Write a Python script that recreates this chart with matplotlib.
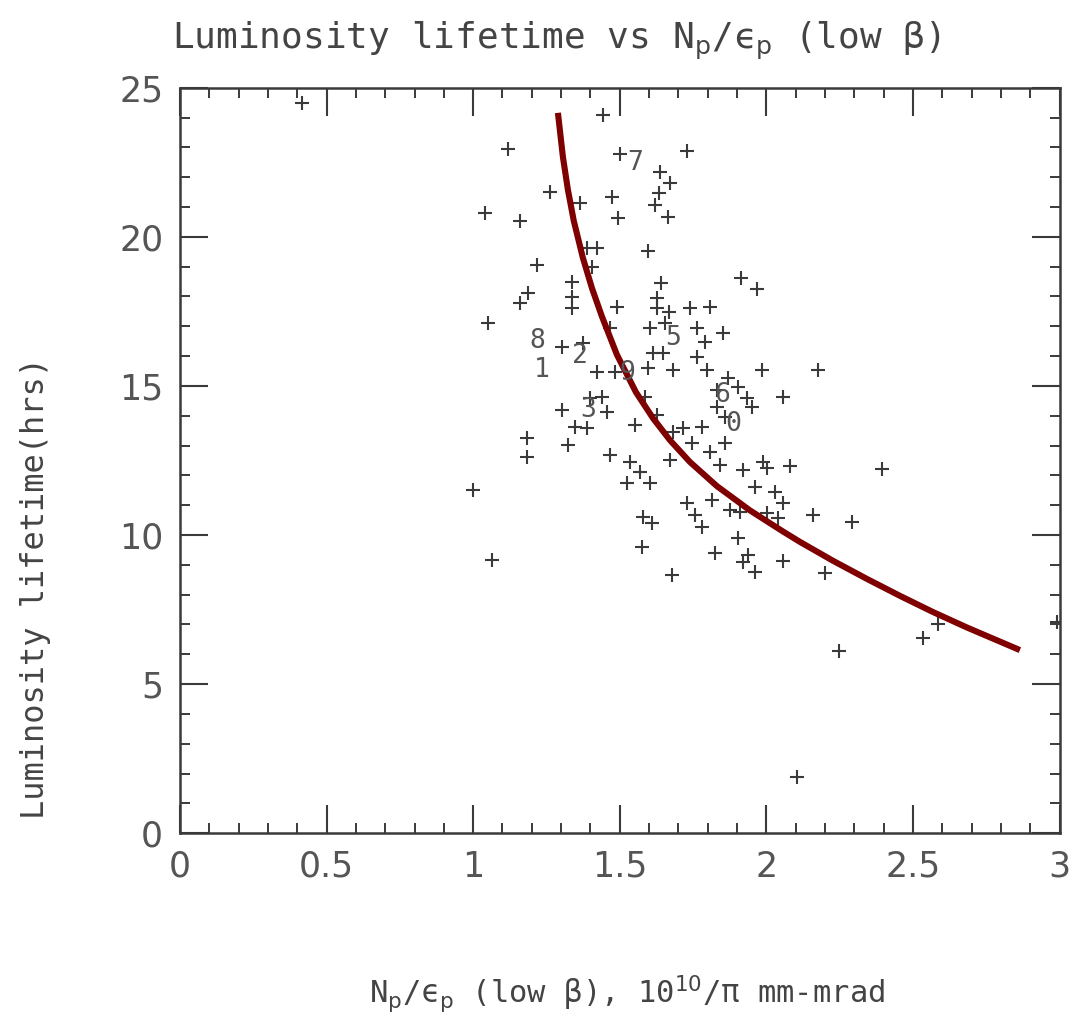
#Import necessary package
import matplotlib
matplotlib.use("Agg")
import matplotlib.pyplot as plt
from matplotlib.ticker import MultipleLocator

#Scatter points: x = Np/ep (low beta), y = luminosity lifetime (hrs)
np_ep = [0.416, 1.442, 1.118, 1.500, 1.729, 1.637, 1.671, 1.633, 1.620, 1.664,
         1.262, 1.364, 1.473, 1.040, 1.159, 1.493, 1.388, 1.422, 1.596, 1.217,
         1.405, 1.337, 1.186, 1.159, 1.337, 1.337, 1.490, 1.640, 1.626, 1.626,
         1.667, 1.739, 1.807, 1.913, 1.967, 1.050, 1.466, 1.602, 1.654, 1.763,
         1.790, 1.851, 1.302, 1.374, 1.613, 1.647, 1.596, 1.681, 1.763, 1.797,
         1.984, 2.175, 1.422, 1.483, 1.868, 1.903, 1.831, 1.933, 1.950, 2.056,
         1.585, 1.831, 1.858, 1.439, 1.302, 1.398, 1.456, 1.347, 1.388, 1.323,
         1.183, 1.183, 1.466, 1.551, 1.626, 1.681, 1.715, 1.780, 1.746, 1.807,
         1.858, 1.671, 1.841, 1.920, 1.988, 2.001, 2.080, 1.534, 1.568, 1.524,
         1.602, 0.999, 1.960, 2.029, 2.056, 1.729, 1.756, 1.780, 1.814, 1.875,
         1.909, 2.001, 2.039, 2.158, 1.579, 1.609, 1.903, 1.575, 2.291, 2.393,
         1.677, 1.824, 1.937, 1.920, 1.960, 2.056, 2.199, 1.064, 2.247, 2.584,
         2.533, 2.990, 2.104]
lifetime = [24.50, 24.09, 22.95, 22.79, 22.89, 22.18, 21.81, 21.48, 21.07, 20.67,
            21.51, 21.14, 21.34, 20.81, 20.54, 20.64, 19.63, 19.63, 19.53, 19.06,
            18.99, 18.49, 18.12, 17.79, 17.99, 17.62, 17.65, 18.46, 17.95, 17.62,
            17.48, 17.62, 17.65, 18.62, 18.26, 17.11, 16.95, 16.95, 17.11, 16.95,
            16.48, 16.78, 16.31, 16.44, 16.11, 16.11, 15.60, 15.54, 15.97, 15.54,
            15.54, 15.54, 15.47, 15.47, 15.27, 14.97, 14.87, 14.60, 14.30, 14.63,
            14.63, 14.30, 13.96, 14.63, 14.19, 14.60, 14.13, 13.62, 13.59, 13.02,
            13.26, 12.62, 12.68, 13.69, 14.03, 13.46, 13.59, 13.62, 13.09, 12.79,
            13.09, 12.52, 12.35, 12.18, 12.45, 12.25, 12.32, 12.45, 12.11, 11.74,
            11.74, 11.51, 11.61, 11.44, 11.07, 11.07, 10.67, 10.27, 11.17, 10.84,
            10.77, 10.74, 10.57, 10.67, 10.60, 10.40, 9.90, 9.60, 10.44, 12.21,
            8.66, 9.40, 9.33, 9.09, 8.76, 9.13, 8.72, 9.16, 6.11, 7.01,
            6.54, 7.08, 1.88]

#Digit markers printed on the plot (run numbers)
label_text = ["7", "8", "1", "2", "9", "3", "5", "6", "0"]
label_x = [1.552, 1.220, 1.234, 1.364, 1.527, 1.391, 1.681, 1.848, 1.885]
label_y = [22.48, 16.52, 15.55, 15.99, 15.44, 14.19, 16.61, 14.71, 13.72]

#Hand drawn red trend curve, points read along its centre
curve_x = [1.289, 1.306, 1.323, 1.343, 1.374, 1.405, 1.439, 1.490, 1.555, 1.613, 1.671,
           1.739, 1.831, 1.943, 2.056, 2.114, 2.226, 2.342, 2.455, 2.567, 2.683, 2.864]
curve_y = [24.16, 22.68, 21.58, 20.54, 19.30, 18.28, 17.33, 16.05, 14.79, 13.92, 13.18,
           12.45, 11.64, 10.83, 10.12, 9.77, 9.14, 8.53, 7.96, 7.42, 6.90, 6.14]

ink = "#3a3a3a"
mono = "DejaVu Sans Mono"

fig = plt.figure(figsize=(10.77, 10.21), dpi=100)
ax = fig.add_axes([0.167, 0.184, 0.817, 0.730])

#Scatter of crosses
ax.plot(np_ep, lifetime, linestyle="none", marker="+", markersize=10,
        markeredgewidth=1.5, color=ink)

#Digit labels
for t, lx, ly in zip(label_text, label_x, label_y):
    ax.text(lx, ly, t, fontsize=19, family=mono, color="#555555",
            ha="center", va="center")

#Red curve on top
ax.plot(curve_x, curve_y, color="#7f0000", linewidth=4.4,
        solid_capstyle="butt", solid_joinstyle="round")

#Axes limits and ticks
ax.set_xlim(0, 3)
ax.set_ylim(0, 25)
ax.xaxis.set_major_locator(MultipleLocator(0.5))
ax.xaxis.set_minor_locator(MultipleLocator(0.1))
ax.yaxis.set_major_locator(MultipleLocator(5))
ax.yaxis.set_minor_locator(MultipleLocator(1))
ax.set_xticks([0, 0.5, 1, 1.5, 2, 2.5, 3])
ax.set_xticklabels(["0", "0.5", "1", "1.5", "2", "2.5", "3"])
ax.set_yticks([0, 5, 10, 15, 20, 25])
ax.set_yticklabels(["0", "5", "10", "15", "20", "25"])
ax.tick_params(which="both", direction="in", top=True, right=True, color=ink)
ax.tick_params(which="major", length=20, width=1.5, labelsize=25,
               labelcolor="#555555", pad=12)
ax.tick_params(which="minor", length=7, width=1.4)
for sp in ax.spines.values():
    sp.set_linewidth(1.8)
    sp.set_color(ink)

#Titles and axis labels
fig.text(0.517, 0.960, r"Luminosity lifetime vs N$_\mathrm{p}$/ϵ$_\mathrm{p}$ (low β)",
         fontsize=26, family=mono, color="#444444", ha="center", va="center")
fig.text(0.033, 0.424, "Luminosity lifetime(hrs)", fontsize=23, family=mono,
         color="#444444", rotation=90, ha="center", va="center")
fig.text(0.582, 0.026, r"N$_\mathrm{p}$/ϵ$_\mathrm{p}$ (low β), 10$^{10}$/π mm-mrad",
         fontsize=22, family=mono, color="#444444", ha="center", va="center")

plt.savefig("out.png", dpi=100)
plt.close()
